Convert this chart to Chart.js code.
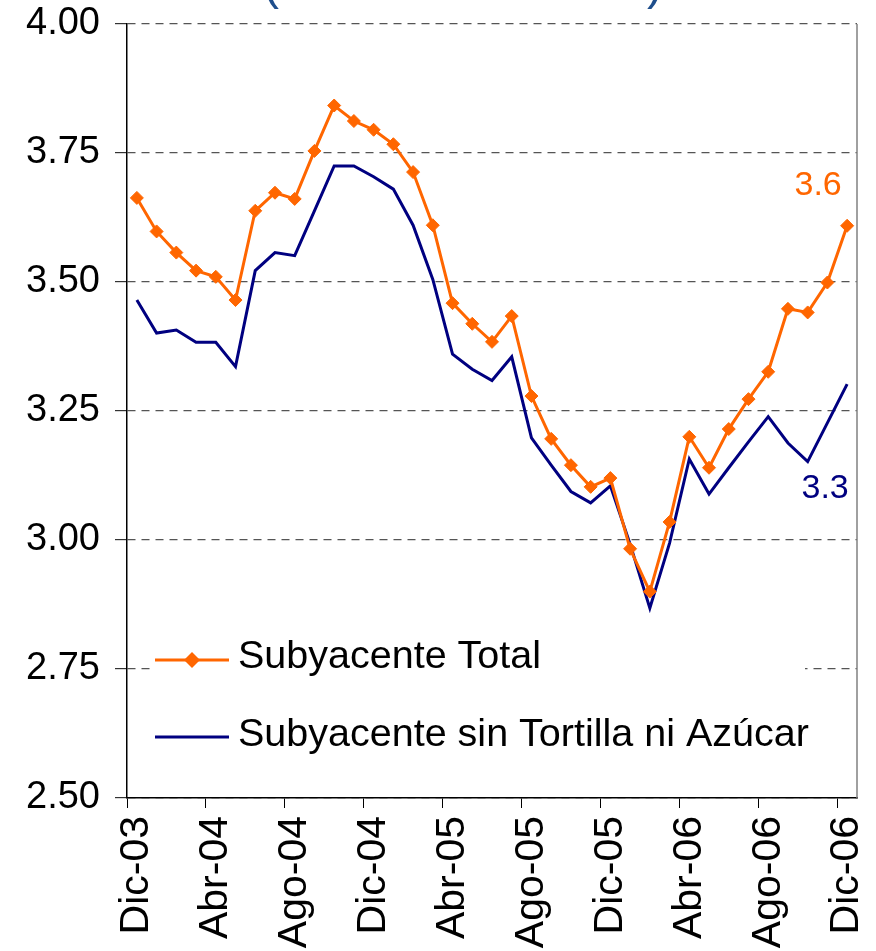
<!DOCTYPE html>
<html>
<head>
<meta charset="utf-8">
<script src="https://cdn.jsdelivr.net/npm/chart.js@4.4.1/dist/chart.umd.min.js"></script>
<style>
  html, body { margin: 0; padding: 0; background: #fff; }
  canvas { display: block; }
</style>
</head>
<body>
<canvas id="chart" width="876" height="951"></canvas>
<script>
// Meses de Dic-03 a Dic-06
const meses = ['Dic-03','Ene-04','Feb-04','Mar-04','Abr-04','May-04','Jun-04','Jul-04','Ago-04','Sep-04','Oct-04','Nov-04',
               'Dic-04','Ene-05','Feb-05','Mar-05','Abr-05','May-05','Jun-05','Jul-05','Ago-05','Sep-05','Oct-05','Nov-05',
               'Dic-05','Ene-06','Feb-06','Mar-06','Abr-06','May-06','Jun-06','Jul-06','Ago-06','Sep-06','Oct-06','Nov-06',
               'Dic-06'];

const subyacenteTotal = [3.663,3.598,3.557,3.522,3.510,3.465,3.638,3.673,3.661,3.754,3.842,3.812,
                         3.795,3.767,3.713,3.610,3.459,3.419,3.384,3.434,3.279,3.196,3.145,3.103,
                         3.120,2.983,2.900,3.035,3.200,3.140,3.215,3.273,3.326,3.448,3.441,3.499,
                         3.609];

const subyacenteSinTA = [3.465,3.401,3.407,3.383,3.383,3.336,3.522,3.557,3.551,3.638,3.725,3.725,
                         3.704,3.680,3.610,3.505,3.360,3.331,3.309,3.355,3.198,3.145,3.094,3.072,
                         3.105,2.992,2.868,2.994,3.157,3.089,3.140,3.190,3.239,3.188,3.152,3.227,
                         3.302];

const yTicks = [2.50, 2.75, 3.00, 3.25, 3.50, 3.75, 4.00];
const etiquetasFinales = ['3.6', '3.3'];
const nombresSeries = ['Subyacente Total', 'Subyacente sin Tortilla ni Azúcar'];

const NARANJA = '#FF6600';
const AZUL = '#000080';
const FUENTE = "'Liberation Sans', Arial, sans-serif";

// Borde derecho, leyenda, etiquetas finales y título cortado
const extrasPlugin = {
    id: 'extras',
    afterDraw(chart) {
        const ctx = chart.ctx;
        const area = chart.chartArea;
        ctx.save();

        // borde derecho gris
        ctx.strokeStyle = '#808080';
        ctx.lineWidth = 1.5;
        ctx.beginPath();
        ctx.moveTo(area.right, area.top);
        ctx.lineTo(area.right, area.bottom);
        ctx.stroke();

        // leyenda dentro del área
        ctx.fillStyle = '#fff';
        ctx.fillRect(150, 615, 655, 160);

        ctx.lineWidth = 3;
        ctx.strokeStyle = NARANJA;
        ctx.beginPath();
        ctx.moveTo(155, 660);
        ctx.lineTo(229, 660);
        ctx.stroke();
        ctx.fillStyle = NARANJA;
        ctx.beginPath();
        ctx.moveTo(192, 652);
        ctx.lineTo(200, 660);
        ctx.lineTo(192, 668);
        ctx.lineTo(184, 660);
        ctx.closePath();
        ctx.fill();

        ctx.strokeStyle = AZUL;
        ctx.beginPath();
        ctx.moveTo(155, 737);
        ctx.lineTo(229, 737);
        ctx.stroke();

        ctx.fillStyle = '#000';
        ctx.font = '39.5px ' + FUENTE;
        ctx.textAlign = 'left';
        ctx.textBaseline = 'alphabetic';
        ctx.fillText(nombresSeries[0], 238, 668);
        ctx.fillText(nombresSeries[1], 238, 746);

        // etiquetas del último dato
        const m0 = chart.getDatasetMeta(0).data;
        const m1 = chart.getDatasetMeta(1).data;
        const p0 = m0[m0.length - 1];
        const p1 = m1[m1.length - 1];
        ctx.font = '34px ' + FUENTE;
        ctx.textAlign = 'center';
        ctx.textBaseline = 'middle';
        ctx.fillStyle = NARANJA;
        ctx.fillText(etiquetasFinales[0], p0.x - 29, p0.y - 40);
        ctx.fillStyle = AZUL;
        ctx.fillText(etiquetasFinales[1], p1.x - 22, p1.y + 104);

        // restos del título (cortado arriba)
        ctx.fillStyle = '#1F4E8C';
        ctx.font = '48px ' + FUENTE;
        ctx.textBaseline = 'alphabetic';
        ctx.fillText('(', 271, -1);
        ctx.fillText(')', 655, -1);

        ctx.restore();
    }
};

const ctx = document.getElementById('chart').getContext('2d');
new Chart(ctx, {
    type: 'line',
    data: {
        labels: meses,
        datasets: [{
            label: nombresSeries[0],
            data: subyacenteTotal,
            borderColor: NARANJA,
            backgroundColor: NARANJA,
            borderWidth: 3,
            tension: 0,
            pointStyle: 'rectRot',
            pointRadius: 6.5,
            pointBorderWidth: 1,
            pointBackgroundColor: NARANJA,
            pointBorderColor: NARANJA
        }, {
            label: nombresSeries[1],
            data: subyacenteSinTA,
            borderColor: AZUL,
            backgroundColor: AZUL,
            borderWidth: 3,
            tension: 0,
            pointRadius: 0
        }]
    },
    options: {
        responsive: false,
        animation: false,
        layout: { padding: { top: 24, right: 19, bottom: 0, left: 0 } },
        plugins: {
            legend: { display: false },
            tooltip: { enabled: false }
        },
        scales: {
            x: {
                type: 'category',
                offset: true,
                afterFit: function(scale) {
                    scale.height = 153;
                    scale.paddingLeft = 0;
                    scale.paddingRight = 0;
                },
                border: { color: '#000', width: 1.5 },
                grid: {
                    offset: true,
                    drawOnChartArea: false,
                    drawTicks: true,
                    tickLength: 10,
                    tickWidth: 1,
                    color: function(c) { return (c.index !== undefined && c.index % 4 === 0) ? '#000' : 'rgba(0,0,0,0)'; },
                    tickColor: function(c) { return (c.index !== undefined && c.index % 4 === 0) ? '#000' : 'rgba(0,0,0,0)'; }
                },
                ticks: {
                    autoSkip: false,
                    minRotation: 90,
                    maxRotation: 90,
                    padding: 8,
                    color: '#000',
                    font: { family: FUENTE, size: 41 },
                    callback: function(v, i) { return i % 4 === 0 ? meses[i] : ''; }
                }
            },
            y: {
                min: 2.5,
                max: 4.0,
                afterFit: function(scale) {
                    scale.width = 127;
                    scale.paddingTop = 0;
                    scale.paddingBottom = 0;
                },
                afterBuildTicks: function(scale) { scale.ticks = yTicks.map(v => ({ value: v })); },
                border: { color: '#000', width: 1.5, dash: [8, 6] },
                grid: {
                    color: '#555',
                    lineWidth: 1.2,
                    tickLength: 12,
                    tickColor: '#333',
                    tickBorderDash: [],
                    tickWidth: 1.2
                },
                ticks: {
                    padding: 15,
                    color: '#000',
                    font: { family: FUENTE, size: 38 },
                    callback: function(v) { return Number(v).toFixed(2); }
                }
            }
        }
    },
    plugins: [extrasPlugin]
});
</script>
</body>
</html>
